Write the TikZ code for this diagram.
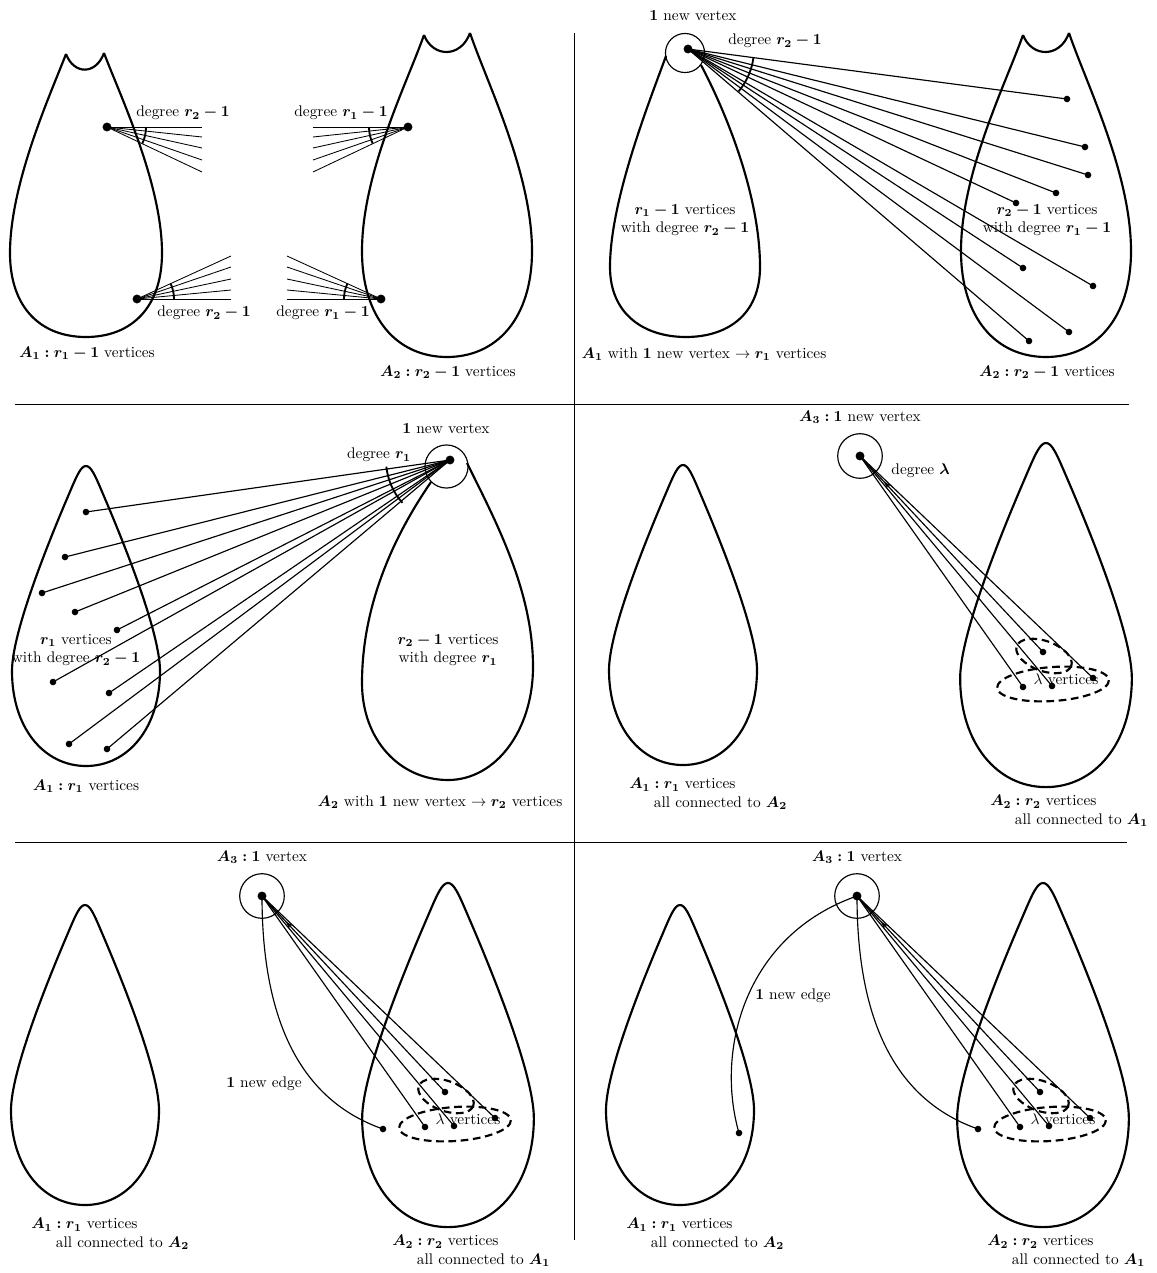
\documentclass[tikz,border=0pt]{standalone}
\usepackage{amsmath}
\usepackage{bm}
\usetikzlibrary{arrows.meta,decorations.markings}
\tikzset{
  blob/.style    = {line width=1.4pt, line join=round},
  link/.style    = {line width=0.75pt},
  spoke/.style   = {line width=0.55pt},
  degarc/.style  = {line width=1.2pt},
  ring/.style    = {draw, circle, line width=0.75pt, inner sep=0pt},
  bigdot/.style  = {circle, fill, inner sep=0pt, minimum size=5.8pt},
  dot/.style     = {circle, fill, inner sep=0pt, minimum size=4.3pt},
  group/.style   = {line width=1.4pt, dash pattern=on 5pt off 3pt},
  divider/.style = {line width=0.6pt},
  backtip/.style = {postaction={decorate}, decoration={markings,
                    mark=at position 0.16 with {\arrow{Stealth[reversed,length=5pt,width=3.5pt]}}}},
  pics/drop/.style = {code={
    \draw[blob] (0,0) .. controls (5,0) and (9,9) .. (17,28)
      .. controls (35,70) and (74,165) .. (74,205)
      .. controls (74,262) and (42,300) .. (0,300)
      .. controls (-42,300) and (-74,262) .. (-74,205)
      .. controls (-74,165) and (-35,70) .. (-17,28)
      .. controls (-9,9) and (-5,0) .. (0,0) -- cycle;
  }},
  pics/small cat/.style = {code={
    \draw[blob] (-20,1) .. controls (-35,40) and (-76,130) .. (-76,200)
      .. controls (-76,255) and (-45,284) .. (0,284)
      .. controls (45,284) and (76,255) .. (76,200)
      .. controls (76,130) and (33,40) .. (18,0);
    \draw[blob] (-20,1) .. controls (-12,22) and (10,22) .. (18,0);
  }},
  pics/big cat/.style = {code={
    \draw[blob] (-23,2) .. controls (-40,50) and (-85,140) .. (-85,218)
      .. controls (-85,285) and (-50,324) .. (0,324)
      .. controls (50,324) and (85,285) .. (85,218)
      .. controls (85,140) and (40,50) .. (23,0);
    \draw[blob] (-23,2) .. controls (-14,25) and (14,25) .. (23,0);
  }}
}
\begin{document}
\begin{tikzpicture}[x=0.65pt, y=-0.65pt]
  \useasboundingbox (0,0) rectangle (1156,1273);

  % panel borders
  \draw[divider] (574,33) -- (574,1240);
  \draw[divider] (15,404) -- (1129,404);
  \draw[divider] (15,842) -- (1127,842);

  % ---- first step: A1 and A2 with their half edges
  \pic at (86,53) {small cat};
  \pic at (447,33) {big cat};
  \node[bigdot] (u1) at (107,127) {};
  \node[bigdot] (w1) at (137,299) {};
  \node[bigdot] (u2) at (408,127) {};
  \node[bigdot] (w2) at (381,299) {};
  \foreach \y [count=\k] in {127,137,148,160,172} {
    \coordinate (u1-\k) at (202,\y);
    \coordinate (u2-\k) at (313,\y);
    \draw[spoke] (u1.center) -- (u1-\k);
    \draw[spoke] (u2.center) -- (u2-\k);
  }
  \foreach \y [count=\k] in {256,267,279,290,299} {
    \coordinate (w1-\k) at (231,\y);
    \coordinate (w2-\k) at (287,\y);
    \draw[spoke] (w1.center) -- (w1-\k);
    \draw[spoke] (w2.center) -- (w2-\k);
  }
  \draw[degarc] (u1.center) ++(0:39) arc[start angle=0, end angle=25, radius=39];
  \draw[degarc] (u2.center) ++(155:39) arc[start angle=155, end angle=180, radius=39];
  \draw[degarc] (w1.center) ++(-25:37) arc[start angle=-25, end angle=0, radius=37];
  \draw[degarc] (w2.center) ++(180:37) arc[start angle=180, end angle=205, radius=37];
  \node (d1) at (183,113) {degree $\bm{r_2-1}$};
  \node (d2) at (341,113) {degree $\bm{r_1-1}$};
  \node (d3) at (204,313) {degree $\bm{r_2-1}$};
  \node (d4) at (323,313) {degree $\bm{r_1-1}$};
  \node (a1) at (87,353) {$\bm{A_1 : r_1-1}$ vertices};
  \node (a2) at (448,372) {$\bm{A_2 : r_2-1}$ vertices};

  % ---- second step: new vertex in A1
  \draw[blob] (666,56) .. controls (650,100) and (610,200) .. (610,267)
    .. controls (610,315) and (645,337) .. (686,337)
    .. controls (727,337) and (760,315) .. (760,267)
    .. controls (760,200) and (730,120) .. (701,65);
  \pic at (1046,33) {big cat};
  \node[ring, minimum size=25.4pt] (ring1) at (685,53) {};
  \node[bigdot] (n1) at (688,49) {};
  \foreach \x/\y [count=\k] in {1067/99, 1085/147, 1088/175, 1056/193, 1016/203, 1023/268, 1093/286, 1069/332, 1029/341} {
    \node[dot] (t\k) at (\x,\y) {};
    \draw[link] (n1.center) -- (t\k.center);
  }
  \draw[degarc] (n1.center) ++(7.5:66) arc[start angle=7.5, end angle=40, radius=66];
  \node (nv1) at (693,16) {$\bm{1}$ new vertex};
  \node (d5) at (775,41) {degree $\bm{r_2-1}$};
  \node[align=center] (c1) at (685,220) {$\bm{r_1-1}$ vertices\\with degree $\bm{r_2-1}$};
  \node[align=center] (c2) at (1047,220) {$\bm{r_2-1}$ vertices\\with degree $\bm{r_1-1}$};
  \node (a3) at (704,354) {$\bm{A_1}$ with $\bm{1}$ new vertex $\rightarrow \bm{r_1}$ vertices};
  \node (a4) at (1047,372) {$\bm{A_2 : r_2-1}$ vertices};

  % ---- third step: new vertex in A2
  \pic at (86,466) {drop};
  \draw[blob] (431,482) .. controls (398,530) and (362,600) .. (362,683)
    .. controls (362,740) and (400,780) .. (448,780)
    .. controls (496,780) and (533,730) .. (533,667)
    .. controls (533,590) and (495,520) .. (467,463);
  \node[ring, minimum size=28pt] (ring2) at (446.5,466.5) {};
  \node[bigdot] (n2) at (450,460) {};
  \foreach \x/\y [count=\k] in {86/512, 65/557, 42/593, 75/612, 117/630, 53/682, 109/693, 69/744, 107/749} {
    \node[dot] (s\k) at (\x,\y) {};
    \draw[link] (n2.center) -- (s\k.center);
  }
  \draw[degarc] (n2.center) ++(138:64) arc[start angle=138, end angle=174, radius=64];
  \node (nv2) at (446,429) {$\bm{1}$ new vertex};
  \node (d6) at (379,455) {degree $\bm{r_1}$};
  \node[align=center] (c3) at (76,650) {$\bm{r_1}$ vertices\\with degree $\bm{r_2-1}$};
  \node[align=center] (c4) at (448,650) {$\bm{r_2-1}$ vertices\\with degree $\bm{r_1}$};
  \node (a5) at (86,786) {$\bm{A_1 : r_1}$ vertices};
  \node (a6) at (440,802) {$\bm{A_2}$ with $\bm{1}$ new vertex $\rightarrow \bm{r_2}$ vertices};

  % ---- last steps: A3 joined to lambda vertices of A2
  \foreach \p/\dx/\dy in {m/598/-440, l/0/0, r/595/0} {
    \begin{scope}[shift={(\dx,\dy)}]
      \pic at (85,905) {drop};
      \pic[xscale=1.16, yscale=1.147] at (448,883) {drop};
      \node[ring, minimum size=29pt] (\p-ring) at (262,896) {};
      \node[bigdot] (\p-a3) at (262,896) {};
      \node[dot] (\p-v1) at (445,1092) {};
      \node[dot] (\p-v2) at (425,1127) {};
      \node[dot] (\p-v3) at (454,1126) {};
      \node[dot] (\p-v4) at (495,1118) {};
      \draw[group, rotate around={-20:(446,1096)}] (446,1096) ellipse [x radius=29, y radius=15];
      \draw[group, rotate around={4:(455,1124)}] (455,1124) ellipse [x radius=56, y radius=17];
      \draw[link, backtip] (\p-a3.center) -- (\p-v1.center);
      \foreach \i in {2,3,4}
        \draw[link] (\p-a3.center) -- (\p-v\i.center);
      \node (\p-lam) at (468,1119) {$\lambda$ vertices};
      \node[align=left, anchor=north west, inner sep=0pt] (\p-b1) at (31,1218)
        {$\bm{A_1 : r_1}$ vertices\\\hspace*{16pt}all connected to $\bm{A_2}$};
      \node[align=left, anchor=north west, inner sep=0pt] (\p-b2) at (392,1235)
        {$\bm{A_2 : r_2}$ vertices\\\hspace*{16pt}all connected to $\bm{A_1}$};
    \end{scope}
  }
  \node (t3) at (860,417) {$\bm{A_3 : 1}$ new vertex};
  \node[anchor=west] (d7) at (886,471) {degree $\bm{\lambda}$};

  \node (t4) at (262,857) {$\bm{A_3 : 1}$ vertex};
  \node (t5) at (857,857) {$\bm{A_3 : 1}$ vertex};
  \node[dot] (l-w) at (383,1129) {};
  \node[dot] (r-w) at (978,1129) {};
  \node[dot] (r-u) at (739,1133) {};
  \draw[link] (l-a3.center) .. controls (262,1020) and (300,1100) .. (l-w.center);
  \draw[link] (r-a3.center) .. controls (857,1020) and (895,1100) .. (r-w.center);
  \draw[link] (r-a3.center) .. controls (745,935) and (715,1050) .. (r-u.center);
  \node (e1) at (264,1084) {$\bm{1}$ new edge};
  \node (e2) at (793,996) {$\bm{1}$ new edge};
\end{tikzpicture}
\end{document}
